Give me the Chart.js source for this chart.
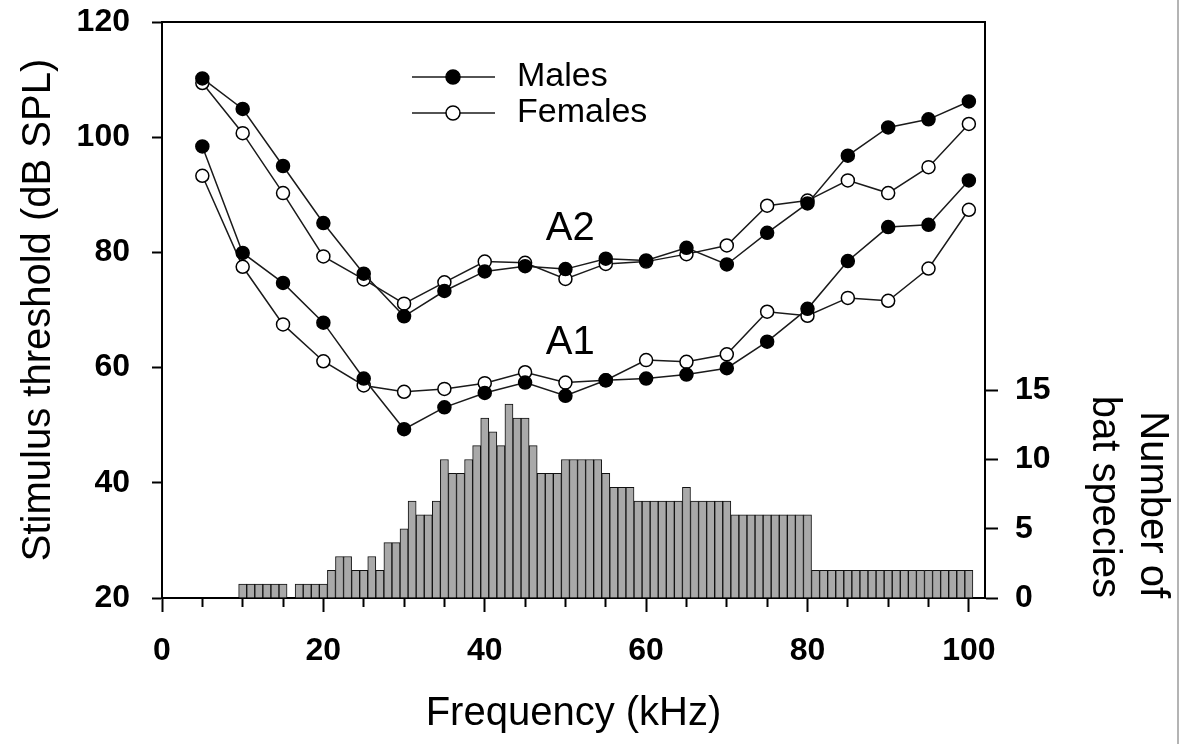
<!DOCTYPE html>
<html>
<head>
<meta charset="utf-8">
<title>Stimulus threshold vs frequency</title>
<script src="https://cdn.jsdelivr.net/npm/chart.js@4.4.1/dist/chart.umd.min.js"></script>
<style>
  html, body { margin: 0; padding: 0; background: #fff; }
  #wrap { position: relative; width: 1184px; height: 744px; }
  #edge { position: absolute; left: 1177px; top: 0; width: 2px; height: 744px; background: #b4b4b4; }
</style>
</head>
<body>
<div id="wrap">
  <canvas id="thresholdChart" width="1184" height="744"></canvas>
  <div id="edge"></div>
</div>
<script>
// frequencies of the threshold measurements (kHz)
const freqKHz = [5, 10, 15, 20, 25, 30, 35, 40, 45, 50, 55, 60, 65, 70, 75, 80, 85, 90, 95, 100];

// thresholds in dB SPL
const a2Males   = [110.2, 104.9, 95.0, 85.1, 76.3, 68.9, 73.3, 76.7, 77.6, 77.1, 78.9, 78.6, 80.8, 77.9, 83.4, 88.5, 96.8, 101.7, 103.1, 106.2];
const a2Females = [109.4, 100.7, 90.3, 79.3, 75.3, 71.1, 74.8, 78.4, 78.2, 75.4, 78.0, 78.4, 79.7, 81.2, 88.1, 89.0, 92.5, 90.3, 94.8, 102.3];
const a1Males   = [98.4, 79.9, 74.7, 67.8, 58.1, 49.3, 53.1, 55.6, 57.4, 55.1, 57.8, 58.1, 58.8, 59.9, 64.5, 70.2, 78.5, 84.4, 84.8, 92.5];
const a1Females = [93.3, 77.5, 67.5, 61.1, 56.9, 55.8, 56.3, 57.3, 59.2, 57.4, 57.8, 61.3, 61.0, 62.3, 69.7, 69.0, 72.1, 71.6, 77.2, 87.4];

// histogram: number of bat species per 1 kHz bin
const batKHz = [10, 11, 12, 13, 14, 15, 17, 18, 19, 20,
  21, 22, 23, 24, 25, 26, 27, 28, 29, 30, 31, 32, 33, 34, 35, 36, 37, 38, 39, 40,
  41, 42, 43, 44, 45, 46, 47, 48, 49, 50, 51, 52, 53, 54, 55, 56, 57, 58, 59, 60,
  61, 62, 63, 64, 65, 66, 67, 68, 69, 70, 71, 72, 73, 74, 75, 76, 77, 78, 79, 80,
  81, 82, 83, 84, 85, 86, 87, 88, 89, 90, 91, 92, 93, 94, 95, 96, 97, 98, 99, 100];
const batCount = [1, 1, 1, 1, 1, 1, 1, 1, 1, 1,
  2, 3, 3, 2, 2, 3, 2, 4, 4, 5, 7, 6, 6, 7, 10, 9, 9, 10, 11, 13,
  12, 11, 14, 13, 13, 11, 9, 9, 9, 10, 10, 10, 10, 10, 9, 8, 8, 8, 7, 7,
  7, 7, 7, 7, 8, 7, 7, 7, 7, 7, 6, 6, 6, 6, 6, 6, 6, 6, 6, 6,
  2, 2, 2, 2, 2, 2, 2, 2, 2, 2, 2, 2, 2, 2, 2, 2, 2, 2, 2, 2];

// tick values
const freqTicks = [0, 5, 10, 15, 20, 25, 30, 35, 40, 45, 50, 55, 60, 65, 70, 75, 80, 85, 90, 95, 100];
const dbTicks = [20, 40, 60, 80, 100, 120];
const batTicks = [0, 5, 10, 15];

const legendNames = ['Males', 'Females'];
const curveNames = ['A2', 'A1'];

const FONT = "'Liberation Sans', Arial, Helvetica, sans-serif";
Chart.defaults.font.family = FONT;
Chart.defaults.color = '#000';

const toPoints = (xs, ys) => ys.map((v, i) => ({ x: xs[i], y: v }));

function thresholdLine(label, values, filled) {
  return {
    type: 'line',
    label: label,
    data: toPoints(freqKHz, values),
    xAxisID: 'x',
    yAxisID: 'y',
    borderColor: '#1a1a1a',
    borderWidth: 1.5,
    tension: 0,
    pointRadius: 6.5,
    pointBorderWidth: 1.5,
    pointBorderColor: '#000',
    pointBackgroundColor: filled ? '#000' : '#fff',
    order: 0
  };
}

// fixed axis sizes; drop the extra room chart.js keeps for the end labels
const fixWidth = w => s => { s.width = w; s.paddingTop = 0; s.paddingBottom = 0; };

// text overlays: curve names and the little legend box
const overlayText = {
  id: 'overlayText',
  afterDatasetsDraw(chart) {
    const { ctx, chartArea, scales } = chart;
    ctx.save();
    ctx.fillStyle = '#000';
    ctx.textBaseline = 'middle';

    ctx.font = '40px ' + FONT;
    ctx.textAlign = 'center';
    ctx.fillText(curveNames[0], scales.x.getPixelForValue(50.6), scales.y.getPixelForValue(84));
    ctx.fillText(curveNames[1], scales.x.getPixelForValue(50.6), scales.y.getPixelForValue(64.3));

    ctx.font = '34px ' + FONT;
    ctx.textAlign = 'left';
    legendNames.forEach((name, i) => {
      const y = chartArea.top + 55 + i * 36;
      const x0 = chartArea.left + 250;
      ctx.beginPath();
      ctx.moveTo(x0, y);
      ctx.lineTo(x0 + 83, y);
      ctx.lineWidth = 1.5;
      ctx.strokeStyle = '#1a1a1a';
      ctx.stroke();
      ctx.beginPath();
      ctx.arc(x0 + 41, y, 7, 0, Math.PI * 2);
      ctx.fillStyle = i === 0 ? '#000' : '#fff';
      ctx.fill();
      ctx.strokeStyle = '#000';
      ctx.stroke();
      ctx.fillStyle = '#000';
      ctx.fillText(name, x0 + 105, y);
    });
    ctx.restore();
  }
};

const tickFont = { size: 32, weight: 'bold' };
const titleFont = { size: 40, lineHeight: 1.2 };

new Chart(document.getElementById('thresholdChart'), {
  type: 'line',
  data: {
    datasets: [
      thresholdLine('A2 Males', a2Males, true),
      thresholdLine('A2 Females', a2Females, false),
      thresholdLine('A1 Males', a1Males, true),
      thresholdLine('A1 Females', a1Females, false),
      {
        type: 'bar',
        label: 'Number of bat species',
        data: toPoints(batKHz, batCount),
        xAxisID: 'x',
        yAxisID: 'yBats',
        backgroundColor: '#a9a9a9',
        borderColor: '#111',
        borderWidth: 1,
        barPercentage: 1,
        categoryPercentage: 1,
        order: 5
      }
    ]
  },
  options: {
    responsive: false,
    animation: false,
    events: [],
    layout: { padding: { top: 22, left: 0, right: 0, bottom: 0 } },
    plugins: {
      legend: { display: false },
      tooltip: { enabled: false }
    },
    scales: {
      x: {
        type: 'linear',
        position: 'bottom',
        min: 0,
        max: 102,
        offset: false,
        afterBuildTicks: s => { s.ticks = freqTicks.map(v => ({ value: v })); },
        afterFit: s => { s.height = 146; },
        ticks: {
          autoSkip: false,
          maxRotation: 0,
          padding: 20,
          font: tickFont,
          callback: v => (v % 20 === 0 ? String(v) : '')
        },
        grid: {
          offset: false,
          drawOnChartArea: false,
          tickLength: 14,
          tickWidth: 2,
          tickColor: '#000',
          tickBorderDash: c => (c.tick && c.tick.value % 20 !== 0 ? [8, 40] : [])
        },
        border: { color: '#000', width: 2 },
        title: { display: true, text: 'Frequency (kHz)', font: titleFont, padding: { top: 0, bottom: 6 } }
      },
      xTop: {
        type: 'linear',
        position: 'top',
        min: 0,
        max: 102,
        afterFit: s => { s.height = 0; },
        ticks: { display: false },
        grid: { drawOnChartArea: false, drawTicks: false },
        border: { color: '#000', width: 2 }
      },
      y: {
        type: 'linear',
        position: 'left',
        min: 20,
        max: 120,
        afterBuildTicks: s => { s.ticks = dbTicks.map(v => ({ value: v })); },
        afterFit: fixWidth(162),
        ticks: { padding: 22, font: tickFont },
        grid: { drawOnChartArea: false, tickLength: 10, tickWidth: 2, tickColor: '#000' },
        border: { color: '#000', width: 2 },
        title: { display: true, text: 'Stimulus threshold (dB SPL)', font: titleFont, padding: { top: 15, bottom: 0 } }
      },
      yBats: {
        type: 'linear',
        position: 'right',
        min: 0,
        max: 41.6,
        afterBuildTicks: s => { s.ticks = batTicks.map(v => ({ value: v })); },
        afterFit: fixWidth(199),
        ticks: { padding: 17, font: tickFont },
        grid: { drawOnChartArea: false, tickLength: 13, tickWidth: 2, tickColor: '#000' },
        border: { color: '#000', width: 2 },
        title: {
          display: true,
          text: ['Number of', 'bat species'],
          align: 'start',
          font: titleFont,
          padding: { top: 8, bottom: 0 }
        }
      }
    }
  },
  plugins: [overlayText]
});
</script>
</body>
</html>
